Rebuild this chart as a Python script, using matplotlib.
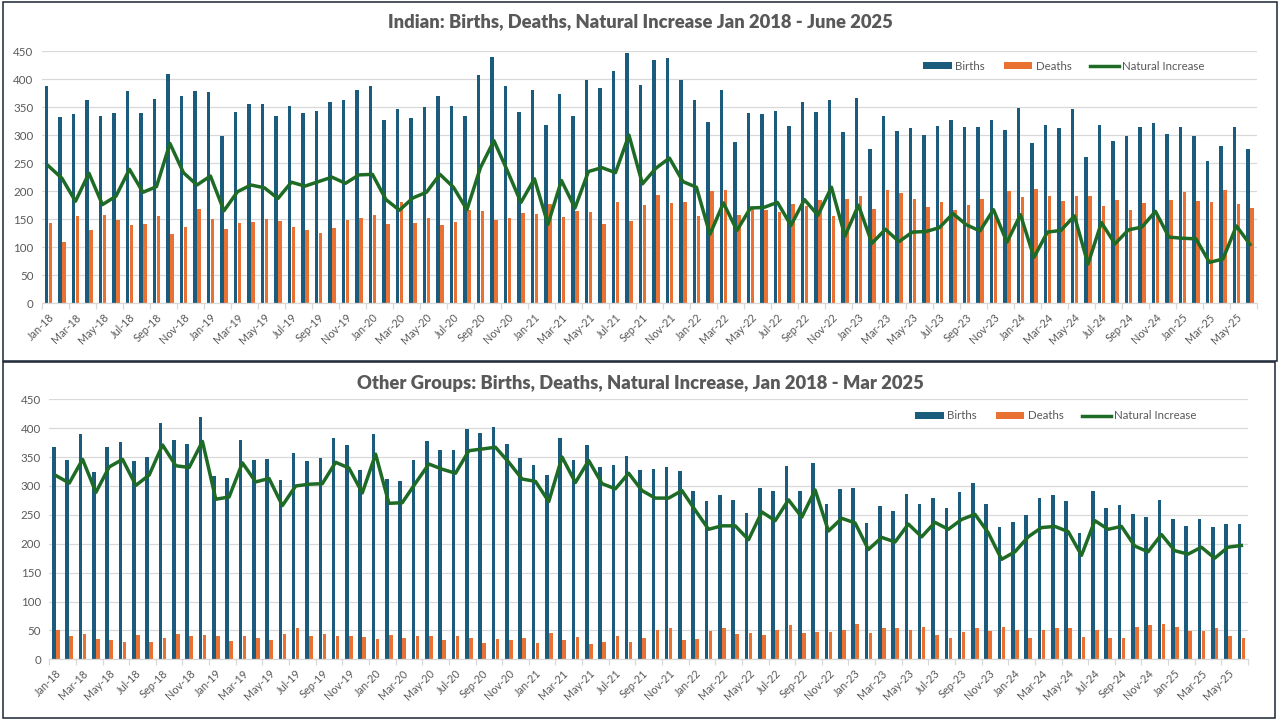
import numpy as np
import pandas as pd
import matplotlib
matplotlib.use("Agg")
import matplotlib.pyplot as plt
from matplotlib.patches import Rectangle

plt.rcParams['font.family'] = ['Lato', 'DejaVu Sans']

months = pd.date_range('2018-01-01', periods=90, freq='MS').strftime('%b-%y').tolist()

ind_births = [388, 332, 338, 363, 334, 340, 379, 340, 364, 409, 369, 379, 377, 298, 342, 356, 356, 334,
              352, 340, 343, 359, 363, 381, 388, 327, 347, 331, 350, 370, 352, 334, 407, 439, 388, 341,
              381, 318, 373, 334, 398, 384, 414, 447, 389, 434, 438, 398, 363, 323, 381, 288, 340, 338,
              343, 316, 359, 341, 363, 306, 366, 275, 334, 307, 313, 300, 316, 327, 315, 315, 327, 309,
              348, 286, 318, 313, 347, 261, 318, 290, 298, 315, 322, 302, 315, 298, 254, 281, 315, 275]
ind_deaths = [143, 109, 156, 131, 158, 149, 140, 142, 156, 124, 136, 168, 150, 133, 143, 145, 150, 147,
              136, 131, 126, 134, 149, 152, 158, 142, 181, 143, 152, 140, 145, 167, 165, 149, 152, 161,
              159, 177, 154, 164, 163, 142, 181, 147, 176, 193, 179, 181, 156, 200, 202, 158, 170, 167,
              163, 177, 174, 184, 156, 186, 191, 168, 202, 197, 186, 172, 181, 167, 175, 186, 160, 200,
              190, 204, 191, 183, 191, 191, 174, 184, 167, 179, 158, 184, 199, 183, 181, 202, 177, 170]
ind_natinc = [245, 223, 182, 232, 176, 191, 239, 198, 208, 285, 233, 211, 227, 165, 199, 211, 206, 187,
              216, 209, 217, 225, 214, 229, 230, 185, 166, 188, 198, 230, 207, 167, 242, 290, 236, 180,
              222, 141, 219, 170, 235, 242, 233, 300, 213, 241, 259, 217, 207, 123, 179, 130, 170, 171,
              180, 139, 185, 157, 207, 120, 175, 107, 132, 110, 127, 128, 135, 160, 140, 129, 167, 109,
              158, 82, 127, 130, 156, 70, 144, 106, 131, 136, 164, 118, 116, 115, 73, 79, 138, 105]

oth_births = [367, 345, 390, 324, 367, 376, 343, 350, 409, 379, 372, 419, 317, 313, 379, 345, 346, 310,
              357, 343, 348, 383, 371, 328, 390, 312, 309, 345, 378, 362, 362, 399, 392, 402, 373, 349,
              336, 319, 383, 345, 371, 333, 336, 352, 328, 330, 333, 326, 291, 274, 285, 276, 253, 297,
              291, 335, 291, 340, 269, 295, 297, 236, 265, 257, 286, 269, 279, 262, 290, 305, 269, 229,
              238, 250, 279, 285, 274, 219, 291, 262, 267, 252, 246, 276, 243, 231, 243, 229, 234, 234]
oth_deaths = [50, 40, 44, 35, 34, 30, 42, 30, 37, 43, 40, 42, 40, 32, 40, 37, 34, 43,
              55, 40, 44, 40, 40, 39, 35, 42, 37, 40, 40, 34, 40, 37, 28, 35, 34, 37,
              28, 46, 34, 39, 27, 30, 40, 30, 37, 51, 54, 34, 35, 49, 54, 44, 46, 42,
              51, 59, 46, 47, 47, 51, 61, 46, 54, 54, 51, 56, 42, 37, 47, 54, 49, 56,
              51, 37, 51, 54, 54, 39, 51, 37, 37, 56, 59, 61, 56, 49, 49, 54, 40, 37]
oth_natinc = [318, 305, 346, 289, 333, 346, 301, 319, 371, 335, 332, 377, 277, 281, 340, 307, 313, 266,
              300, 303, 304, 341, 331, 288, 355, 270, 271, 305, 338, 329, 322, 361, 364, 367, 341, 312,
              308, 273, 350, 306, 344, 304, 295, 322, 292, 279, 279, 292, 258, 225, 231, 231, 207, 255,
              240, 276, 246, 293, 222, 244, 236, 190, 211, 203, 234, 212, 237, 225, 242, 251, 219, 173,
              186, 212, 228, 230, 221, 180, 240, 225, 230, 196, 186, 216, 188, 182, 194, 175, 194, 197]

titles = ["Indian: Births, Deaths, Natural Increase Jan 2018 - June 2025",
          "Other Groups: Births, Deaths, Natural Increase, Jan 2018 - Mar 2025"]

C_BIRTH = '#1B5B7C'
C_DEATH = '#E97132'
C_NI = '#1E6B26'
C_TEXT = '#595959'
C_GRID = '#D9D9D9'

fig = plt.figure(figsize=(12.8, 7.2), dpi=100)
W, H = 1280, 720

def make_axes(left_px, right_px, top_px, bottom_px):
    return fig.add_axes([left_px / W, 1 - bottom_px / H, (right_px - left_px) / W, (bottom_px - top_px) / H])

ax1 = make_axes(41.7, 1256.7, 51, 303.3)
ax2 = make_axes(49.3, 1248.0, 399.3, 659.3)

x = np.arange(len(months))
bw = 0.27
off = 0.15

def draw(ax, births, deaths, ni, title_y, title, leg_xy):
    hb = ax.bar(x - off, births, width=bw, color=C_BIRTH, label='Births', zorder=2)
    hd = ax.bar(x + off, deaths, width=bw, color=C_DEATH, label='Deaths', zorder=2)
    hn, = ax.plot(x, ni, color=C_NI, lw=2.5, label='Natural Increase', zorder=3)
    ax.set_xlim(-0.5, len(months) - 0.5)
    ax.set_ylim(0, 450)
    ax.set_yticks(np.arange(0, 451, 50))
    ax.grid(axis='y', color=C_GRID, lw=0.9, zorder=0)
    ax.set_axisbelow(True)
    for s in ['top', 'right', 'left']:
        ax.spines[s].set_visible(False)
    ax.spines['bottom'].set_color(C_GRID)
    ax.spines['bottom'].set_linewidth(0.9)
    ax.set_xticks(x[::2])
    ax.set_xticklabels(months[::2], rotation=45, ha='right', rotation_mode='anchor',
                       fontsize=7.8, color=C_TEXT)
    ax.set_xticks(np.arange(-0.5, len(months), 2), minor=True)
    ax.tick_params(axis='x', which='major', length=0, pad=6)
    ax.tick_params(axis='x', which='minor', length=4, color=C_GRID, width=0.9)
    ax.tick_params(axis='y', length=0, labelsize=8.3, labelcolor=C_TEXT, pad=6)
    fig.text(0.5, title_y, title, ha='center', va='center', fontsize=13.2,
             fontweight='heavy', color=C_TEXT)
    leg = ax.legend([hb, hd, hn], ['Births', 'Deaths', 'Natural Increase'],
                    loc='center', bbox_to_anchor=leg_xy, bbox_transform=fig.transFigure,
                    ncol=3, frameon=False, fontsize=8.3, handlelength=2.5, handleheight=0.6,
                    columnspacing=1.6, handletextpad=0.3)
    for t in leg.get_texts():
        t.set_color(C_TEXT)

draw(ax1, ind_births, ind_deaths, ind_natinc, 1 - 22 / H, titles[0], (1064 / W, 1 - 66 / H))
draw(ax2, oth_births, oth_deaths, oth_natinc, 1 - 383 / H, titles[1], (1056 / W, 1 - 416 / H))

frame_color = '#1A2433'
fig.add_artist(Rectangle((2.5 / W, 1 - 360.5 / H), (1277 - 2.5) / W, (360.5 - 1.5) / H,
                         transform=fig.transFigure, fill=False, ec=frame_color, lw=1.1))
fig.add_artist(Rectangle((2.5 / W, 1 - 718 / H), (1275 - 2.5) / W, (718 - 361.5) / H,
                         transform=fig.transFigure, fill=False, ec=frame_color, lw=1.1))

fig.savefig('out.png', dpi=100, facecolor='white')
